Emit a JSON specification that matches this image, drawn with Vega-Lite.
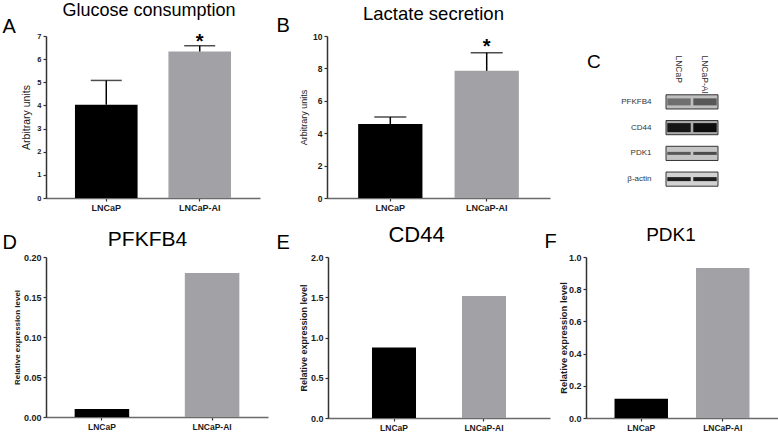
{
  "$schema": "https://vega.github.io/schema/vega-lite/v6.json",
  "autosize": {"type": "none"},
  "padding": {"left": 46, "top": 36, "right": 732, "bottom": 396},
  "background": "white",
  "bounds": "full",
  "spacing": 12,
  "config": {
    "view": {"stroke": null},
    "font": "Liberation Sans",
    "axis": {"grid": false, "labelFont": "Liberation Sans", "labelFontWeight": "bold", "labelColor": "#1a1a1a", "titleFont": "Liberation Sans", "titleColor": "#1a1a1a", "domainWidth": 1.5, "tickWidth": 1.2, "tickSize": 3, "labelPadding": 2},
    "axisX": {"domainColor": "#6a6a6a", "tickColor": "#333333", "labelAngle": 0},
    "axisY": {"domainColor": "#333333", "tickColor": "#333333"},
    "title": {"font": "Liberation Sans", "fontWeight": "normal", "color": "#000000", "anchor": "middle", "frame": "group", "baseline": "alphabetic"}
  },
  "datasets": {
    "glucose": [
      {"line": "LNCaP", "value": 4.03, "upper": 5.08, "sig": ""},
      {"line": "LNCaP-AI", "value": 6.33, "upper": 6.58, "sig": "*"}
    ],
    "lactate": [
      {"line": "LNCaP", "value": 4.57, "upper": 5.0, "sig": ""},
      {"line": "LNCaP-AI", "value": 7.85, "upper": 8.97, "sig": "*"}
    ],
    "pfkfb4": [
      {"line": "LNCaP", "value": 0.010},
      {"line": "LNCaP-AI", "value": 0.180}
    ],
    "cd44": [
      {"line": "LNCaP", "value": 0.875},
      {"line": "LNCaP-AI", "value": 1.515}
    ],
    "pdk1": [
      {"line": "LNCaP", "value": 0.119},
      {"line": "LNCaP-AI", "value": 0.932}
    ],
    "blotRows": [
      {"protein": "PFKFB4", "background": 0.17},
      {"protein": "CD44", "background": 0.25},
      {"protein": "PDK1", "background": 0.15},
      {"protein": "β-actin", "background": 0.1}
    ],
    "blot": [
      {"protein": "PFKFB4", "lane": "LNCaP", "signal": 0.5},
      {"protein": "PFKFB4", "lane": "LNCaP-AI", "signal": 0.6},
      {"protein": "CD44", "lane": "LNCaP", "signal": 0.92},
      {"protein": "CD44", "lane": "LNCaP-AI", "signal": 0.96},
      {"protein": "PDK1", "lane": "LNCaP", "signal": 0.6},
      {"protein": "PDK1", "lane": "LNCaP-AI", "signal": 0.66},
      {"protein": "β-actin", "lane": "LNCaP", "signal": 0.88},
      {"protein": "β-actin", "lane": "LNCaP-AI", "signal": 0.88}
    ]
  },
  "vconcat": [
    {
      "bounds": "flush",
      "spacing": 36,
      "hconcat": [
        {
          "width": 245, "height": 162,
          "title": {"text": "Glucose consumption", "fontSize": 18, "offset": 0, "dy": 4, "dx": -19.5},
          "data": {"name": "glucose"},
          "encoding": {
            "x": {"field": "line", "type": "nominal", "sort": ["LNCaP", "LNCaP-AI"],
                  "scale": {"range": [0, 214], "paddingInner": 0.33, "paddingOuter": 0.31},
                  "axis": {"title": "A", "labelFontSize": 9, "titleFontSize": 20, "titleFontWeight": "normal", "titleColor": "#000000", "titleX": -44, "titleY": -166, "titleAlign": "left", "titleBaseline": "alphabetic"}}
          },
          "layer": [
            {"mark": {"type": "bar"},
             "encoding": {
               "y": {"field": "value", "type": "quantitative", "title": "Arbitrary units", "scale": {"domain": [0, 7], "nice": false},
                     "axis": {"values": [0, 1, 2, 3, 4, 5, 6, 7], "labelOverlap": false, "titleFontSize": 10.5, "titleFontWeight": "normal", "labelFontSize": 7.5, "titleX": -20, "titleBaseline": "middle"}},
               "color": {"field": "line", "type": "nominal", "scale": {"domain": ["LNCaP", "LNCaP-AI"], "range": ["#000000", "#a2a2a6"]}, "legend": null}
             }},
            {"mark": {"type": "rule", "color": "#000000", "strokeWidth": 1.5},
             "encoding": {"y": {"field": "value", "type": "quantitative", "title": "Arbitrary units",
                     "axis": {"values": [0, 1, 2, 3, 4, 5, 6, 7], "labelOverlap": false, "titleFontSize": 10.5, "titleFontWeight": "normal", "labelFontSize": 7.5, "titleX": -20, "titleBaseline": "middle"}}, "y2": {"field": "upper"}}},
            {"mark": {"type": "tick", "color": "#000000", "size": 31, "thickness": 1.5},
             "encoding": {"y": {"field": "upper", "type": "quantitative", "title": "Arbitrary units",
                     "axis": {"values": [0, 1, 2, 3, 4, 5, 6, 7], "labelOverlap": false, "titleFontSize": 10.5, "titleFontWeight": "normal", "labelFontSize": 7.5, "titleX": -20, "titleBaseline": "middle"}}}},
            {"mark": {"type": "text", "fontSize": 20, "fontWeight": "bold", "baseline": "alphabetic", "dy": 2, "color": "#000000"},
             "encoding": {"y": {"field": "upper", "type": "quantitative", "title": "Arbitrary units",
                     "axis": {"values": [0, 1, 2, 3, 4, 5, 6, 7], "labelOverlap": false, "titleFontSize": 10.5, "titleFontWeight": "normal", "labelFontSize": 7.5, "titleX": -20, "titleBaseline": "middle"}}, "text": {"field": "sig"}}}
          ]
        },
        {
          "width": 303, "height": 162,
          "title": {"text": "Lactate secretion", "fontSize": 18.5, "offset": 0, "dy": 8.3, "dx": -45},
          "data": {"name": "lactate"},
          "encoding": {
            "x": {"field": "line", "type": "nominal", "sort": ["LNCaP", "LNCaP-AI"],
                  "scale": {"range": [0, 223], "paddingInner": 0.333, "paddingOuter": 0.323},
                  "axis": {"title": "B", "labelFontSize": 9, "titleFontSize": 20, "titleFontWeight": "normal", "titleColor": "#000000", "titleX": -51, "titleY": -167, "titleAlign": "left", "titleBaseline": "alphabetic"}}
          },
          "layer": [
            {"mark": {"type": "bar"},
             "encoding": {
               "y": {"field": "value", "type": "quantitative", "title": "Arbitrary units", "scale": {"domain": [0, 10], "nice": false},
                     "axis": {"values": [0, 2, 4, 6, 8, 10], "labelOverlap": false, "titleFontSize": 9, "titleFontWeight": "normal", "labelFontSize": 8.5, "titleX": -23.5, "titleBaseline": "middle"}},
               "color": {"field": "line", "type": "nominal", "scale": {"domain": ["LNCaP", "LNCaP-AI"], "range": ["#000000", "#a2a2a6"]}, "legend": null}
             }},
            {"mark": {"type": "rule", "color": "#000000", "strokeWidth": 1.5},
             "encoding": {"y": {"field": "value", "type": "quantitative", "title": "Arbitrary units",
                     "axis": {"values": [0, 2, 4, 6, 8, 10], "labelOverlap": false, "titleFontSize": 9, "titleFontWeight": "normal", "labelFontSize": 8.5, "titleX": -23.5, "titleBaseline": "middle"}}, "y2": {"field": "upper"}}},
            {"mark": {"type": "tick", "color": "#000000", "size": 32, "thickness": 1.5},
             "encoding": {"y": {"field": "upper", "type": "quantitative", "title": "Arbitrary units",
                     "axis": {"values": [0, 2, 4, 6, 8, 10], "labelOverlap": false, "titleFontSize": 9, "titleFontWeight": "normal", "labelFontSize": 8.5, "titleX": -23.5, "titleBaseline": "middle"}}}},
            {"mark": {"type": "text", "fontSize": 20, "fontWeight": "bold", "baseline": "alphabetic", "dy": 0, "color": "#000000"},
             "encoding": {"y": {"field": "upper", "type": "quantitative", "title": "Arbitrary units",
                     "axis": {"values": [0, 2, 4, 6, 8, 10], "labelOverlap": false, "titleFontSize": 9, "titleFontWeight": "normal", "labelFontSize": 8.5, "titleX": -23.5, "titleBaseline": "middle"}}, "text": {"field": "sig"}}}
          ]
        },
        {
          "width": 52, "height": 162,
          "title": {"text": "C", "anchor": "start", "fontSize": 19, "offset": 0, "dx": -79, "dy": 35.5},
          "layer": [
            {"data": {"name": "blotRows"},
             "mark": {"type": "rect", "stroke": "#333333", "strokeWidth": 1},
             "encoding": {
               "y": {"field": "protein", "type": "nominal", "sort": ["PFKFB4", "CD44", "PDK1", "β-actin"],
                     "scale": {"range": [53, 156], "paddingInner": 0.45, "paddingOuter": 0.225},
                     "axis": {"title": null, "domain": false, "ticks": false, "tickSize": 0, "labelPadding": 15, "labelFontWeight": "normal", "labelFontSize": 8, "labelColor": "#333333"}},
               "fill": {"field": "background", "type": "quantitative", "scale": {"domain": [0, 1], "range": ["#ececec", "#000000"]}, "legend": null}
             }},
            {"data": {"name": "blot"}, "transform": [{"filter": "datum.protein === 'PFKFB4'"}],
             "mark": {"type": "rect", "height": 7},
             "encoding": {
               "x": {"field": "lane", "type": "nominal", "sort": ["LNCaP", "LNCaP-AI"],
                     "scale": {"range": [0, 52], "paddingInner": 0.1, "paddingOuter": 0.05},
                     "axis": {"orient": "top", "title": null, "domain": false, "ticks": false, "tickSize": 0, "labelAngle": 90, "labelAlign": "left", "labelBaseline": "middle", "labelPadding": -19, "labelFontWeight": "normal", "labelFontSize": 8.5, "labelColor": "#333333"}},
               "y": {"field": "protein", "type": "nominal", "sort": ["PFKFB4", "CD44", "PDK1", "β-actin"]},
               "fill": {"field": "signal", "type": "quantitative", "legend": null}
             }},
            {"data": {"name": "blot"}, "transform": [{"filter": "datum.protein === 'CD44'"}],
             "mark": {"type": "rect", "height": 9},
             "encoding": {
               "x": {"field": "lane", "type": "nominal", "sort": ["LNCaP", "LNCaP-AI"]},
               "y": {"field": "protein", "type": "nominal", "sort": ["PFKFB4", "CD44", "PDK1", "β-actin"]},
               "fill": {"field": "signal", "type": "quantitative", "legend": null}
             }},
            {"data": {"name": "blot"}, "transform": [{"filter": "datum.protein === 'PDK1'"}],
             "mark": {"type": "rect", "height": 3},
             "encoding": {
               "x": {"field": "lane", "type": "nominal", "sort": ["LNCaP", "LNCaP-AI"]},
               "y": {"field": "protein", "type": "nominal", "sort": ["PFKFB4", "CD44", "PDK1", "β-actin"]},
               "fill": {"field": "signal", "type": "quantitative", "legend": null}
             }},
            {"data": {"name": "blot"}, "transform": [{"filter": "datum.protein === 'β-actin'"}],
             "mark": {"type": "rect", "height": 4},
             "encoding": {
               "x": {"field": "lane", "type": "nominal", "sort": ["LNCaP", "LNCaP-AI"]},
               "y": {"field": "protein", "type": "nominal", "sort": ["PFKFB4", "CD44", "PDK1", "β-actin"]},
               "fill": {"field": "signal", "type": "quantitative", "legend": null}
             }}
          ]
        }
      ]
    },
    {
      "bounds": "flush",
      "spacing": 36,
      "hconcat": [
        {
          "width": 246, "height": 160,
          "title": {"text": "PFKFB4", "fontSize": 21, "offset": 0, "dy": 18, "dx": -21.5},
          "data": {"name": "pfkfb4"},
          "mark": {"type": "bar"},
          "encoding": {
            "x": {"field": "line", "type": "nominal", "sort": ["LNCaP", "LNCaP-AI"],
                  "scale": {"range": [0, 222], "paddingInner": 0.505, "paddingOuter": 0.26},
                  "axis": {"title": "D", "labelFontSize": 8.5, "titleFontSize": 20, "titleFontWeight": "normal", "titleColor": "#000000", "titleX": -44, "titleY": -169, "titleAlign": "left", "titleBaseline": "alphabetic"}},
            "y": {"field": "value", "type": "quantitative", "title": "Relative expression level", "scale": {"domain": [0, 0.2], "nice": false},
                  "axis": {"values": [0, 0.05, 0.1, 0.15, 0.2], "format": ".2f", "labelOverlap": false, "titleFontSize": 8, "titleFontWeight": "bold", "labelFontSize": 9, "titleX": -29, "titleBaseline": "middle"}},
            "color": {"field": "line", "type": "nominal", "scale": {"domain": ["LNCaP", "LNCaP-AI"], "range": ["#000000", "#a2a2a6"]}, "legend": null}
          }
        },
        {
          "width": 222, "height": 161,
          "title": {"text": "CD44", "fontSize": 22, "offset": 0, "dy": 15.3, "dx": -22.5},
          "data": {"name": "cd44"},
          "mark": {"type": "bar"},
          "encoding": {
            "x": {"field": "line", "type": "nominal", "sort": ["LNCaP", "LNCaP-AI"],
                  "scale": {"range": [0, 222], "paddingInner": 0.511, "paddingOuter": 0.489},
                  "axis": {"title": "E", "labelFontSize": 8.5, "titleFontSize": 20, "titleFontWeight": "normal", "titleColor": "#000000", "titleX": -52, "titleY": -170, "titleAlign": "left", "titleBaseline": "alphabetic"}},
            "y": {"field": "value", "type": "quantitative", "title": "Relative expression level", "scale": {"domain": [0, 2], "nice": false},
                  "axis": {"values": [0, 0.5, 1, 1.5, 2], "format": ".1f", "labelOverlap": false, "titleFontSize": 9, "titleFontWeight": "bold", "labelFontSize": 9, "titleX": -25, "titleBaseline": "middle"}},
            "color": {"field": "line", "type": "nominal", "scale": {"domain": ["LNCaP", "LNCaP-AI"], "range": ["#000000", "#a2a2a6"]}, "legend": null}
          }
        },
        {
          "width": 192, "height": 161,
          "title": {"text": "PDK1", "fontSize": 19, "offset": 0, "dy": 14, "dx": -11},
          "data": {"name": "pdk1"},
          "mark": {"type": "bar"},
          "encoding": {
            "x": {"field": "line", "type": "nominal", "sort": ["LNCaP", "LNCaP-AI"],
                  "scale": {"range": [0, 192], "paddingInner": 0.344, "paddingOuter": 0.35},
                  "axis": {"title": "F", "labelFontSize": 8.5, "titleFontSize": 20, "titleFontWeight": "normal", "titleColor": "#000000", "titleX": -42, "titleY": -171, "titleAlign": "left", "titleBaseline": "alphabetic"}},
            "y": {"field": "value", "type": "quantitative", "title": "Relative expression level", "scale": {"domain": [0, 1], "nice": false},
                  "axis": {"values": [0, 0.2, 0.4, 0.6, 0.8, 1], "format": ".1f", "labelOverlap": false, "titleFontSize": 9.4, "titleFontWeight": "bold", "labelFontSize": 9, "titleX": -22.5, "titleBaseline": "middle"}},
            "color": {"field": "line", "type": "nominal", "scale": {"domain": ["LNCaP", "LNCaP-AI"], "range": ["#000000", "#a2a2a6"]}, "legend": null}
          }
        }
      ]
    }
  ]
}
